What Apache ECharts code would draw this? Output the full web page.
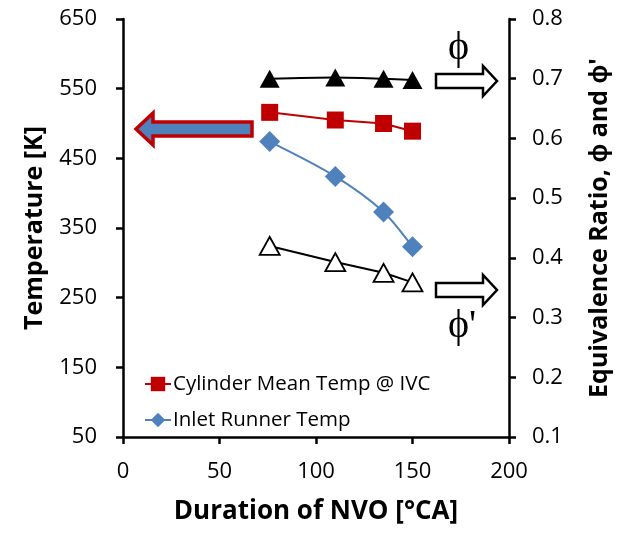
<!DOCTYPE html>
<html><head><meta charset="utf-8">
<script src="https://cdn.jsdelivr.net/npm/echarts@6/dist/echarts.min.js"></script>
<style>html,body{margin:0;padding:0;background:#fff}#c{width:624px;height:538px}</style>
</head><body><div id="c"></div>
<script>
const nvo = [76, 110, 135, 150];
const cylTemp = [516, 505, 500, 489];
const inletTemp = [474, 424, 373, 323];
const phi = [0.700, 0.702, 0.700, 0.698];
const phiPrime = [0.420, 0.393, 0.375, 0.359];
const xTicks = [0, 50, 100, 150, 200];
const leftTicks = [50, 150, 250, 350, 450, 550, 650];
const rightTicks = [0.1, 0.2, 0.3, 0.4, 0.5, 0.6, 0.7, 0.8];

const pair = (xs, ys) => xs.map((x, i) => [x, ys[i]]);
const font = 'Open Sans, Liberation Sans, sans-serif';
const chart = echarts.init(document.getElementById('c'), null, {renderer: 'canvas'});

const axisLine = {show: true, onZero: false, lineStyle: {color: '#000', width: 2.5}};
const axisTick = {show: true, inside: false, length: 7, lineStyle: {color: '#000', width: 2.5}};

function arrowRight(x0, x1, xh, yc, sh, hh) {
  return [[x0, yc - sh / 2], [xh, yc - sh / 2], [xh, yc - hh / 2], [x1, yc], [xh, yc + hh / 2], [xh, yc + sh / 2], [x0, yc + sh / 2]];
}

chart.setOption({
  animation: false,
  backgroundColor: '#fff',
  grid: {left: 123, right: 115, top: 19, bottom: 101},
  xAxis: {
    type: 'value', min: xTicks[0], max: xTicks[xTicks.length - 1], interval: 50,
    axisLine, axisTick, splitLine: {show: false},
    axisLabel: {color: '#000', fontSize: 22, fontFamily: font, margin: 24},
    name: 'Duration of NVO [°CA]', nameLocation: 'middle', nameGap: 62,
    nameTextStyle: {color: '#000', fontSize: 26, fontWeight: 'bold', fontFamily: font}
  },
  yAxis: [{
    type: 'value', min: leftTicks[0], max: leftTicks[leftTicks.length - 1], interval: 100,
    axisLine, axisTick, splitLine: {show: false},
    axisLabel: {color: '#000', fontSize: 22, fontFamily: font, margin: 26},
    name: 'Temperature [K]', nameLocation: 'middle', nameGap: 76, nameRotate: 90,
    nameTextStyle: {color: '#000', fontSize: 25, fontWeight: 'bold', fontFamily: font}
  }, {
    type: 'value', position: 'right', min: rightTicks[0], max: rightTicks[rightTicks.length - 1], interval: 0.1,
    axisLine, axisTick, splitLine: {show: false},
    axisLabel: {color: '#000', fontSize: 22, fontFamily: font, margin: 23, formatter: v => v.toFixed(1)},
    name: "Equivalence Ratio, ϕ and ϕ'", nameLocation: 'middle', nameGap: 78, nameRotate: 90,
    nameTextStyle: {color: '#000', fontSize: 25, fontWeight: 'bold', fontFamily: font}
  }],
  legend: {
    show: true, orient: 'vertical', left: 139, top: 368, itemGap: 14,
    itemWidth: 26, itemHeight: 18,
    data: ['Cylinder Mean Temp @ IVC', 'Inlet Runner Temp'],
    textStyle: {color: '#000', fontSize: 20.5, lineHeight: 22, fontFamily: font, padding: [0, 0, 0, -3]}
  },
  series: [{
    name: 'Cylinder Mean Temp @ IVC', type: 'line', yAxisIndex: 0,
    data: pair(nvo, cylTemp), symbol: 'rect', symbolSize: 17,
    itemStyle: {color: '#C00000'}, lineStyle: {color: '#C00000', width: 2}, z: 3
  }, {
    name: 'Inlet Runner Temp', type: 'line', yAxisIndex: 0,
    data: pair(nvo, inletTemp), symbol: 'diamond', symbolSize: [21, 21], smooth: 0.3,
    itemStyle: {color: '#4F81BD'}, lineStyle: {color: '#4F81BD', width: 2}, z: 3
  }, {
    name: 'phi', type: 'line', yAxisIndex: 1,
    data: pair(nvo, phi), symbol: 'triangle', symbolSize: [20, 18], smooth: 0.3,
    itemStyle: {color: '#000'}, lineStyle: {color: '#000', width: 2}, z: 3
  }, {
    name: "phi'", type: 'line', yAxisIndex: 1,
    data: pair(nvo, phiPrime), symbol: 'triangle', symbolSize: [20, 18],
    itemStyle: {color: '#fff', borderColor: '#000', borderWidth: 1.8}, lineStyle: {color: '#000', width: 2}, z: 3
  }],
  graphic: [
    {type: 'polygon', shape: {points: arrowRight(252, 136, 153, 129, 14, 32)},
     style: {fill: '#4F81BD', stroke: '#C00000', lineWidth: 3.5}, z: 10},
    {type: 'polygon', shape: {points: arrowRight(436, 497, 483, 81, 14, 30)},
     style: {fill: '#fff', stroke: '#000', lineWidth: 2.5}, z: 10},
    {type: 'polygon', shape: {points: arrowRight(436, 497, 483, 290, 14, 30)},
     style: {fill: '#fff', stroke: '#000', lineWidth: 2.5}, z: 10},
    {type: 'text', left: 448, top: 28,
     style: {text: 'ϕ', fontSize: 40, fontFamily: 'Liberation Serif, DejaVu Serif, serif', fill: '#000'}, z: 10},
    {type: 'text', left: 448, top: 306,
     style: {text: "ϕ'", fontSize: 40, fontFamily: 'Liberation Serif, DejaVu Serif, serif', fill: '#000'}, z: 10}
  ]
});
</script></body></html>
